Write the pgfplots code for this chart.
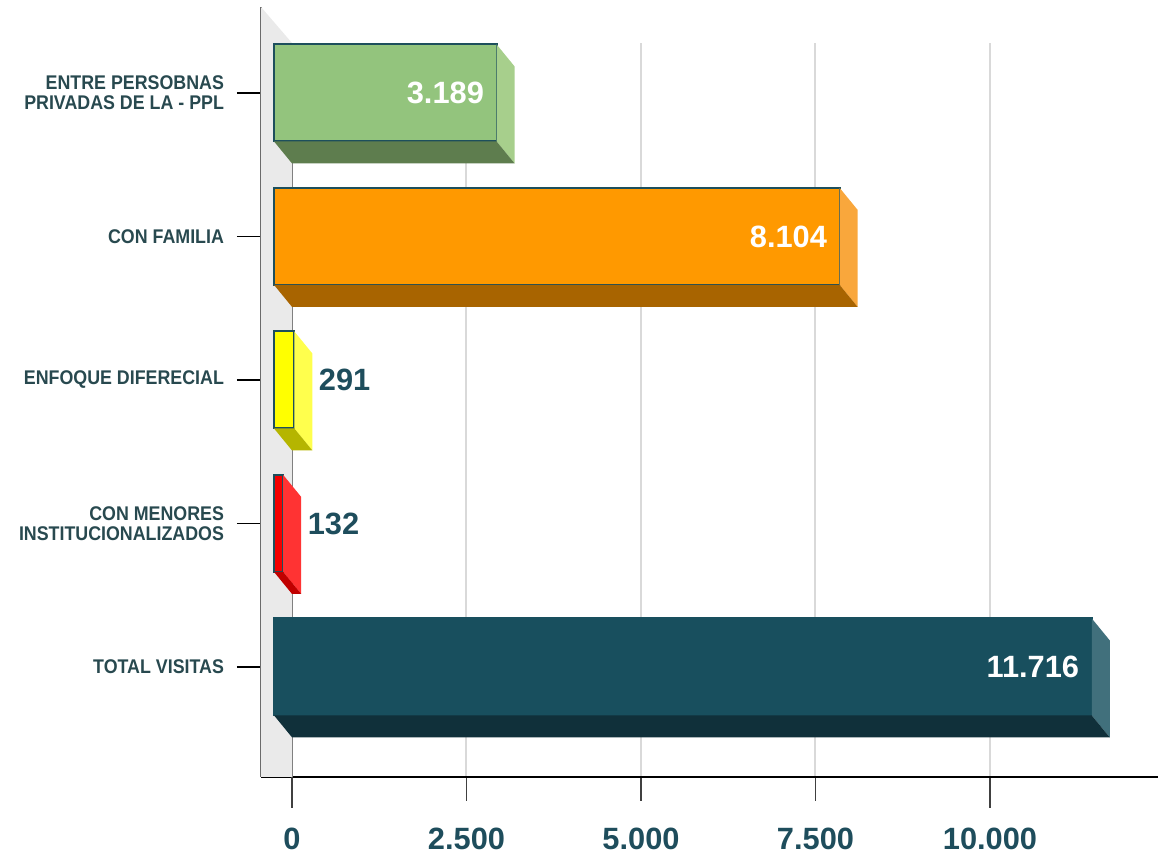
\documentclass[border=0pt]{standalone}
\usepackage{fontspec}
\setmainfont{Liberation Sans}
\newfontfamily\lblfont[FakeStretch=0.9]{Liberation Sans}
\usepackage{pgfplots}
\pgfplotsset{compat=1.18}
\definecolor{txt}{HTML}{1E4D5C}
\definecolor{lbl}{HTML}{28494F}
\definecolor{edge}{HTML}{1D4F5C}
\definecolor{gF}{HTML}{93C47D}\definecolor{gS}{HTML}{A7CF8C}\definecolor{gB}{HTML}{5E7D4E}
\definecolor{oF}{HTML}{FF9900}\definecolor{oS}{HTML}{F9A73C}\definecolor{oB}{HTML}{A86400}
\definecolor{yF}{HTML}{FFFF00}\definecolor{yS}{HTML}{FFFF4D}\definecolor{yB}{HTML}{B5B500}
\definecolor{rF}{HTML}{F20000}\definecolor{rS}{HTML}{FF3333}\definecolor{rB}{HTML}{C00000}
\definecolor{tF}{HTML}{184F5E}\definecolor{tS}{HTML}{41707C}\definecolor{tB}{HTML}{10303A}
\definecolor{wall}{HTML}{EAEAEA}
% depth faces (side and bottom) of a 3D bar, drawn at its far end (value, category)
\newcommand\declareside[3]{%
 \pgfdeclareplotmark{#1}{%
  \pgfmathsetlengthmacro\Lv{\rawv*0.0349pt}%
  \pgfpathmoveto{\pgfqpoint{-9pt}{24.25pt}}%
  \pgfpathlineto{\pgfqpoint{0pt}{13.25pt}}%
  \pgfpathlineto{\pgfqpoint{0pt}{-35.25pt}}%
  \pgfpathlineto{\pgfqpoint{-9pt}{-24.25pt}}%
  \pgfpathclose
  \pgfsetfillcolor{#2}\pgfusepath{fill}%
  \pgfpathmoveto{\pgfpoint{-9pt-\Lv}{-24.25pt}}%
  \pgfpathlineto{\pgfqpoint{-9pt}{-24.25pt}}%
  \pgfpathlineto{\pgfqpoint{0pt}{-35.25pt}}%
  \pgfpathlineto{\pgfpoint{-\Lv}{-35.25pt}}%
  \pgfpathclose
  \pgfsetfillcolor{#3}\pgfusepath{fill}%
 }}
\declareside{sideG}{gS}{gB}
\declareside{sideO}{oS}{oB}
\declareside{sideY}{yS}{yB}
\declareside{sideR}{rS}{rB}
\declareside{sideT}{tS}{tB}
\pgfplotsset{
 depth/.style={only marks, mark=#1, visualization depends on={rawx \as \rawv}},
 front/.style={xbar, bar width=48.5pt, bar shift=0pt, xshift=-9pt, line width=1pt,
   nodes near coords, point meta=x,
   every node near coord/.append style={font=\bfseries\fontsize{15.4}{16}\selectfont,
     /pgf/number format/fixed, /pgf/number format/precision=0,
     /pgf/number format/1000 sep={.}}},
 inlab/.style={every node near coord/.append style={anchor=east, xshift=-2.5pt, text=white}},
 outlab/.style={every node near coord/.append style={anchor=west, xshift=8.5pt, text=txt}},
}
\begin{document}
\begin{tikzpicture}
\useasboundingbox (0,0) rectangle (579pt,430pt);
\begin{axis}[
 at={(130.5pt,41.5pt)}, anchor=south west,
 x=0.0349pt, y=71.75pt,
 xmin=-444, xmax=12407, ymin=-0.767, ymax=4.348,
 clip=false, scaled x ticks=false, scaled y ticks=false,
 axis x line*=bottom, axis y line*=left,
 x axis line style={black, line width=1.25pt},
 y axis line style={draw=black!65, line width=1pt, shorten >=-18pt},
 /pgf/number format/assume math mode=true,
 xtick={2500,5000,7500,10000}, xticklabels={2.500,5.000,7.500,10.000},
 extra x ticks={0}, extra x tick labels={0},
 extra x tick style={grid style={black!50, line width=0.9pt}},
 xmajorgrids, grid style={black!15, line width=1pt},
 ytick={0,1,2,3,4},
 yticklabels={TOTAL VISITAS, CON MENORES\\INSTITUCIONALIZADOS, ENFOQUE DIFERECIAL, CON FAMILIA, ENTRE PERSOBNAS\\PRIVADAS DE LA - PPL},
 tick align=outside, major tick length=12pt,
 xtick style={draw=black!75, line width=0.75pt, shorten <=-3.5pt},
 ytick style={draw=black, line width=0.75pt},
 xticklabel style={font=\bfseries\fontsize{15.4}{16}\selectfont, text=txt, inner sep=0pt, yshift=-13.5pt},
 yticklabel style={font=\lblfont\bfseries\fontsize{9.9}{10}\selectfont, text=lbl, align=right, xshift=-3pt},
]
\fill[wall] (axis cs:-444,4.599) -- (axis cs:0,4.348) -- (axis cs:0,-0.767) -- (axis cs:-444,-0.767) -- cycle;
% ENTRE PERSONAS PRIVADAS DE LA LIBERTAD
\addplot[depth=sideG] coordinates {(3189,4)};
\addplot[front, inlab, fill=gF, draw=edge] coordinates {(3189,4)};
% CON FAMILIA
\addplot[depth=sideO] coordinates {(8104,3)};
\addplot[front, inlab, fill=oF, draw=edge] coordinates {(8104,3)};
% ENFOQUE DIFERENCIAL
\addplot[depth=sideY] coordinates {(291,2)};
\addplot[front, outlab, fill=yF, draw=edge] coordinates {(291,2)};
% CON MENORES INSTITUCIONALIZADOS
\addplot[depth=sideR] coordinates {(132,1)};
\addplot[front, outlab, fill=rF, draw=edge] coordinates {(132,1)};
% TOTAL VISITAS
\addplot[depth=sideT] coordinates {(11716,0)};
\addplot[front, inlab, fill=tF, draw=tF] coordinates {(11716,0)};
\end{axis}
\end{tikzpicture}
\end{document}
